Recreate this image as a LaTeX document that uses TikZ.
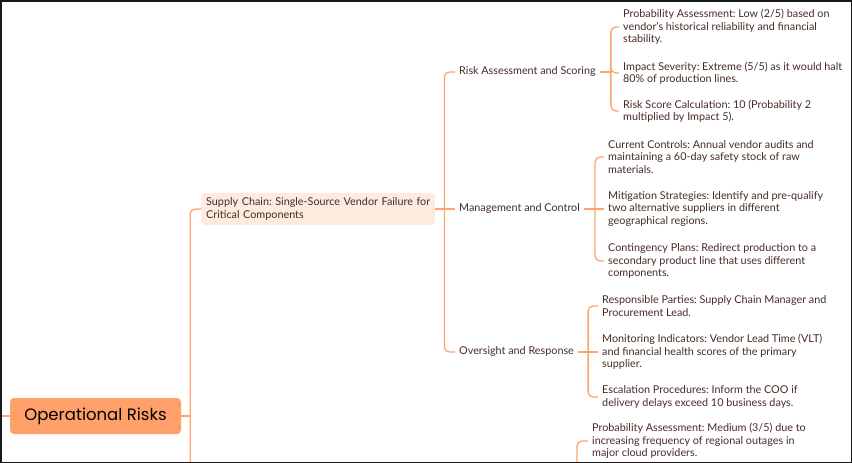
\documentclass[tikz,border=0pt]{standalone}
\usepackage{fontspec}
\setmainfont{Lato}
\newfontfamily\titlefont{Poppins}
\frenchspacing
\definecolor{connc}{HTML}{FFA26E}
\definecolor{mainfill}{HTML}{FFA06B}
\definecolor{subfill}{HTML}{FDEBDF}
\definecolor{txtc}{HTML}{452C24}
\begin{document}
\begin{tikzpicture}[x=1pt,y=-1pt,
  conn/.style={draw=connc, line width=1.3pt, rounded corners=5pt},
  bodyfont/.style={font=\frenchspacing\fontsize{10.8}{12.3}\selectfont},
  leaf/.style={bodyfont, anchor=west, align=left, inner xsep=4pt, inner ysep=0pt, text=txtc},
  midnode/.style={bodyfont, anchor=west, inner xsep=4pt, inner ysep=2pt, text=txtc},
  subnode/.style={bodyfont, anchor=west, align=left, text width=224pt, inner xsep=5pt, inner ysep=3pt, minimum height=32pt, fill=subfill, rounded corners=4pt, text=txtc},
  rootnode/.style={font=\titlefont\fontsize{16.5}{18}\selectfont, minimum width=171pt, minimum height=36pt, fill=mainfill, rounded corners=4pt, text=black}
]
\useasboundingbox (0,0) rectangle (852,463);
\begin{scope}
\clip (0,0) rectangle (852,463);

\node[rootnode] (or) at (95.5,416) {Operational Risks};
\node[subnode] (sc) at (201,209) {Supply Chain: Single-Source Vendor Failure for\\Critical Components};

\node[midnode] (ra) at (455,72) {Risk Assessment and Scoring};
\node[midnode] (mc) at (455,209) {Management and Control};
\node[midnode] (orr) at (455,352) {Oversight and Response};

\node[leaf] (p1) at (619,27) {Probability Assessment: Low (2/5) based on\\vendor’s historical reliability and financial\\stability.};
\node[leaf] (p2) at (619,73) {Impact Severity: Extreme (5/5) as it would halt\\80\% of production lines.};
\node[leaf] (p3) at (619,111) {Risk Score Calculation: 10 (Probability 2\\multiplied by Impact 5).};

\node[leaf] (c1) at (604,157) {Current Controls: Annual vendor audits and\\maintaining a 60-day safety stock of raw\\materials.};
\node[leaf] (c2) at (604,209) {Mitigation Strategies: Identify and pre-qualify\\two alternative suppliers in different\\geographical regions.};
\node[leaf] (c3) at (604,261) {Contingency Plans: Redirect production to a\\secondary product line that uses different\\components.};

\node[leaf] (r1) at (598,306) {Responsible Parties: Supply Chain Manager and\\Procurement Lead.};
\node[leaf] (r2) at (598,352) {Monitoring Indicators: Vendor Lead Time (VLT)\\and financial health scores of the primary\\supplier.};
\node[leaf] (r3) at (598,397) {Escalation Procedures: Inform the COO if\\delivery delays exceed 10 business days.};

\node[leaf] (pm) at (588,441) {Probability Assessment: Medium (3/5) due to\\increasing frequency of regional outages in\\major cloud providers.};

\coordinate (parentL) at (-20,416);
\coordinate (offA) at (201,530);
\coordinate (offB) at (577,530);

\draw[conn] (parentL) -- (or.west);
\draw[conn] (or.east) -- ++(9,0) coordinate (jor);
\draw[conn] (jor) |- (sc.west);
\draw[conn] (jor) |- (offA);

\draw[conn] (sc.east) -- ++(9,0) coordinate (jsc);
\draw[conn] (jsc) |- (ra.west);
\draw[conn] (jsc) -- (mc.west);
\draw[conn] (jsc) |- (orr.west);

\draw[conn] (ra.east) -- ++(11,0) coordinate (jra);
\draw[conn] (jra) |- (p1.west);
\draw[conn] (jra) |- (p2.west);
\draw[conn] (jra) |- (p3.west);

\draw[conn] (mc.east) -- ++(11,0) coordinate (jmc);
\draw[conn] (jmc) |- (c1.west);
\draw[conn] (jmc) -- (c2.west);
\draw[conn] (jmc) |- (c3.west);

\draw[conn] (orr.east) -- ++(10,0) coordinate (jorr);
\draw[conn] (jorr) |- (r1.west);
\draw[conn] (jorr) -- (r2.west);
\draw[conn] (jorr) |- (r3.west);

\draw[conn] (offB) |- (pm.west);
\end{scope}
\draw[line width=1.5pt, black!90] (0.75,0.75) rectangle (851.25,462.25);
\end{tikzpicture}
\end{document}
